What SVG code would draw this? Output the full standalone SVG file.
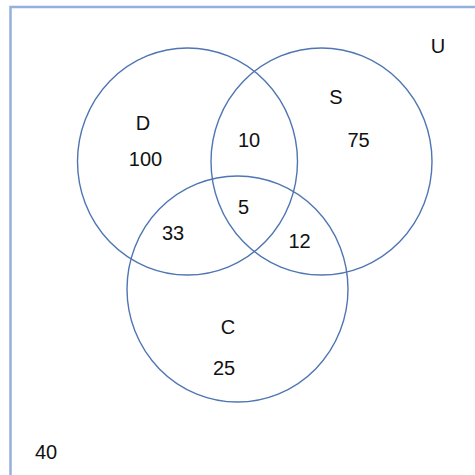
<svg xmlns="http://www.w3.org/2000/svg" width="475" height="475" viewBox="0 0 475 475">
<style>
.set{fill:none;stroke:#4f75b3;stroke-width:1.4}
.t{font-family:"Liberation Sans",Arial,sans-serif;font-size:20px;fill:#111;text-anchor:middle}
</style>
<rect x="0" y="0" width="475" height="475" fill="#fff"/>
<g id="universe">
<rect x="10.5" y="7" width="500" height="500" fill="none" stroke="#95b0dc" stroke-width="2.5"/>
<text class="t" x="438" y="53">U</text>
<text class="t" x="46" y="459">40</text>
</g>
<g id="D">
<ellipse class="set" cx="187.5" cy="161.5" rx="110" ry="113.5"/>
<text class="t" x="143" y="130">D</text>
<text class="t" x="145.5" y="165.5">100</text>
</g>
<g id="S">
<ellipse class="set" cx="321.5" cy="161.5" rx="110.5" ry="113.5"/>
<text class="t" x="336" y="104">S</text>
<text class="t" x="358.5" y="147">75</text>
</g>
<g id="C">
<ellipse class="set" cx="237.5" cy="289" rx="110.5" ry="113"/>
<text class="t" x="228" y="334">C</text>
<text class="t" x="224" y="375">25</text>
</g>
<g id="regions">
<text class="t" x="249" y="147">10</text>
<text class="t" x="243.5" y="214">5</text>
<text class="t" x="173" y="240">33</text>
<text class="t" x="299.5" y="247.5">12</text>
</g>
<g id="connectors"/>
</svg>
